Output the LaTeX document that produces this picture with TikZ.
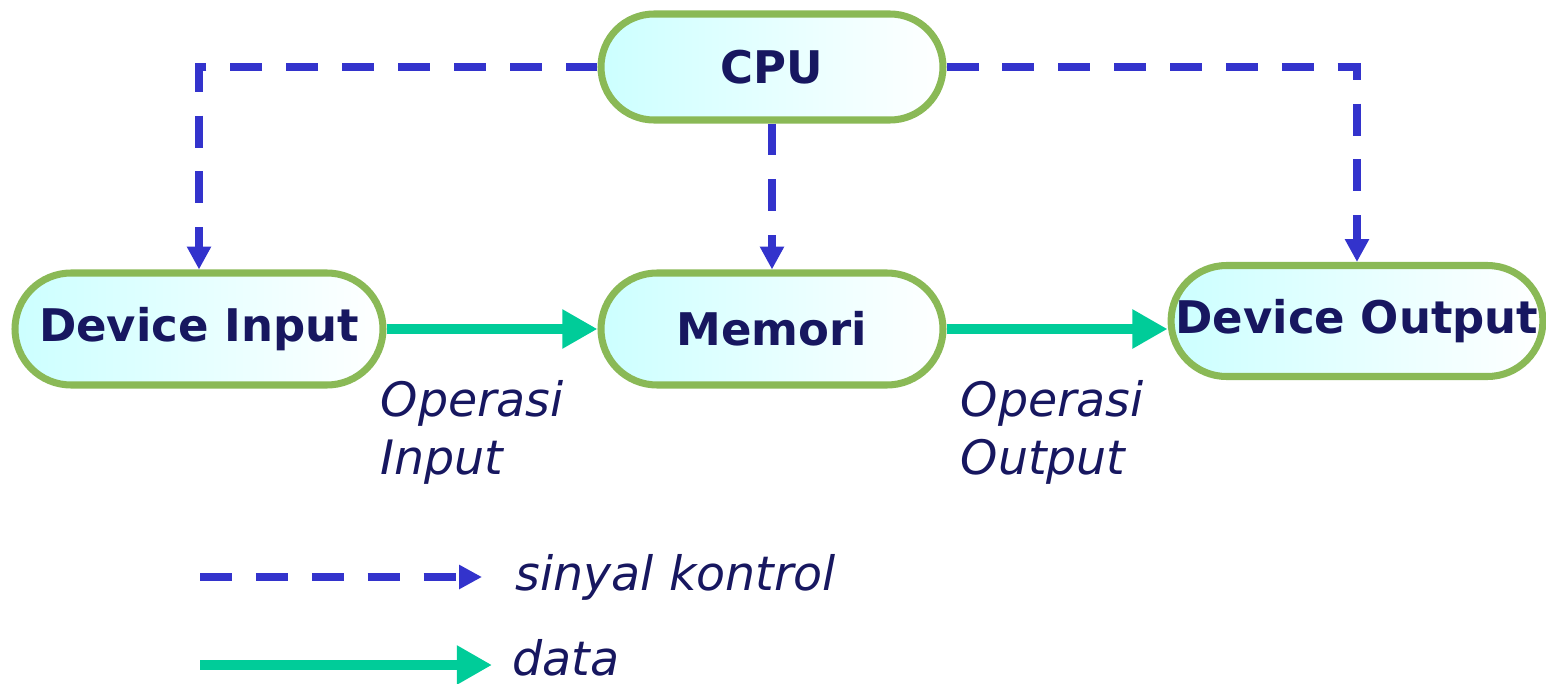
\documentclass[tikz,border=0pt]{standalone}
\usepackage{fontspec}
\setmainfont{DejaVu Sans}
\usetikzlibrary{shapes.misc,arrows.meta,positioning}
\definecolor{leaf}{RGB}{138,185,86}
\definecolor{ice}{RGB}{204,255,255}
\definecolor{navy}{RGB}{23,23,96}
\definecolor{ctrl}{RGB}{51,51,204}
\definecolor{flow}{RGB}{0,204,153}

\begin{document}
\begin{tikzpicture}[font=\fontsize{12.8}{15}\selectfont,text=navy]
\tikzset{unit/.style={rounded rectangle,draw=leaf,line width=2pt,left color=ice,right color=white,
    minimum height=1.06cm,inner sep=0pt,text=navy,font=\fontsize{12.8}{15}\selectfont\bfseries},
  sig/.style={ctrl,line width=2.3pt,dash pattern=on 9.1pt off 6.8pt,-{Triangle[length=6.5pt,width=6.5pt]}},
  dat/.style={flow,line width=2.8pt,-{Triangle[length=10pt,width=10.5pt]}},
  note/.style={align=left,inner sep=0pt,anchor=north west,text=navy,font=\fontsize{13.5}{16.5}\selectfont\itshape}}
\useasboundingbox (0,0) rectangle (15.46,-6.84);
\node[unit,minimum width=3.42cm] (cpu) at (7.72,-0.67) {CPU};
\node[unit,minimum width=3.68cm,minimum height=1.12cm] (devin) at (1.99,-3.29) {Device Input};
\node[unit,minimum width=3.42cm,minimum height=1.12cm] (mem) at (7.72,-3.29) {Memori};
\node[unit,minimum width=3.63cm,minimum height=1.11cm] (devout) at (13.57,-3.21) {Device Output};
% control lines from the CPU
\draw[sig] (cpu.west) -| (devin.north);
\draw[sig] (cpu.south) -- (mem.north);
\draw[sig] (cpu.east) -| (devout.north);
% data path
\draw[dat] (devin.east) -- (mem.west);
\draw[dat] (mem.east) -- (mem.east -| devout.west);
\node[note] (opin) at (3.80,-3.80) {Operasi\\Input};
\node[note] (opout) at (9.60,-3.80) {Operasi\\Output};
% legend
\coordinate (sigA) at (2.00,-5.77);
\coordinate (sigB) at (4.82,-5.77);
\coordinate (datA) at (2.00,-6.65);
\coordinate (datB) at (4.92,-6.65);
\draw[sig] (sigA) -- (sigB);
\draw[dat] (datA) -- (datB);
\node[right=0.33cm of sigB,inner sep=0pt,text=navy,font=\fontsize{13.5}{16}\selectfont\itshape] (sigtxt) {sinyal kontrol};
\node[right=0.2cm of datB,yshift=0.07cm,inner sep=0pt,text=navy,font=\fontsize{13.5}{16}\selectfont\itshape] (dattxt) {data};
\end{tikzpicture}
\end{document}
